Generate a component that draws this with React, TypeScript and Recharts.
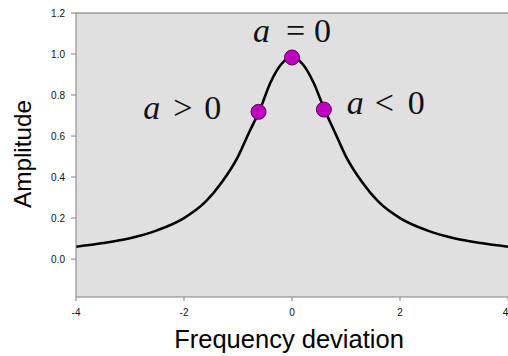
import React from 'react';
import {
  ComposedChart, Line, Scatter, XAxis, YAxis, CartesianGrid, ReferenceLine, ReferenceDot, Label,
} from 'recharts';

// Curve
const curveX = [-4, -3.5, -3, -2.5, -2, -1.6, -1.3, -1, -0.8, -0.6, -0.4, -0.2, 0, 0.2, 0.4, 0.6, 0.8, 1, 1.3, 1.6, 2, 2.5, 3, 3.5, 4];
const curveY = [0.06, 0.078, 0.102, 0.14, 0.2, 0.28, 0.375, 0.5, 0.615, 0.725, 0.86, 0.95, 0.985, 0.95, 0.86, 0.73, 0.615, 0.5, 0.375, 0.28, 0.2, 0.14, 0.102, 0.078, 0.06];

// Marked points
const dotX = [-0.62, 0, 0.59];
const dotY = [0.718, 0.983, 0.729];

const xTicks = [-4, -2, 0, 2, 4];
const yTicks = [0, 0.2, 0.4, 0.6, 0.8, 1.0, 1.2];
const yDomain: [number, number] = [-0.185, 1.2];

const curve = curveX.map((x, i) => ({ x, y: curveY[i] }));
const dots = dotX.map((x, i) => ({ x, y: dotY[i] }));

const annotations: { op: string; x: number; y: number; opDx: number }[] = [
  { op: '=', x: -0.722, y: 1.059, opDx: 33 },
  { op: '>', x: -2.754, y: 0.682, opDx: 30 },
  { op: '<', x: 1.013, y: 0.706, opDx: 28 },
];

const SANS = '"Liberation Sans", Arial, sans-serif';
const SERIF = '"Liberation Serif", "Times New Roman", serif';

const Ann = ({ viewBox, op, opDx }: any) => {
  const x = viewBox.x + viewBox.width / 2;
  const y = viewBox.y + viewBox.height / 2;
  return (
    <g fontFamily={SERIF} fontSize={34} fill="#111">
      <text x={x} y={y} fontStyle="italic">a</text>
      <text x={x + opDx} y={y}>{op}</text>
      <text x={x + 61} y={y}>0</text>
    </g>
  );
};

const Dot = (props: any) => (
  <circle cx={props.cx} cy={props.cy} r={7.5} fill="#c000c0" stroke="#5a005a" strokeWidth={1} />
);

export default function App() {
  return (
    <div style={{ position: 'absolute', left: 0, top: 0, width: 508, height: 356 }}>
      <ComposedChart
        width={508}
        height={356}
        data={curve}
        margin={{ top: 13, right: 0, bottom: 0, left: 0 }}
        style={{ fontFamily: SANS }}
      >
        <CartesianGrid fill="#e0e0e0" horizontal={false} vertical={false} stroke="none" />
        <XAxis
          dataKey="x"
          type="number"
          domain={[-4, 4]}
          ticks={xTicks}
          height={59}
          stroke="#808080"
          tickSize={4}
          tickMargin={8}
          tick={{ fontSize: 10, fill: '#111', fontFamily: SANS }}
          allowDataOverflow
        >
          <Label
            content={({ viewBox }: any) => (
              <text
                x={viewBox.x + viewBox.width / 2 - 3}
                y={viewBox.y + 51}
                textAnchor="middle"
                fontSize={25.5}
                fontFamily={SANS}
                fill="#000"
              >
                Frequency deviation
              </text>
            )}
          />
        </XAxis>
        <YAxis
          type="number"
          domain={yDomain}
          ticks={yTicks}
          width={76}
          stroke="#808080"
          tickSize={5}
          tickMargin={6}
          tickFormatter={(v: number) => v.toFixed(1)}
          tick={{ fontSize: 10, fill: '#111', fontFamily: SANS }}
          allowDataOverflow
        >
          <Label
            content={() => (
              <text
                x={30.7}
                y={154}
                transform="rotate(-90, 30.7, 154)"
                textAnchor="middle"
                fontSize={24.3}
                fontFamily={SANS}
                fill="#000"
              >
                Amplitude
              </text>
            )}
          />
        </YAxis>
        <ReferenceLine y={1.2} stroke="#707070" strokeWidth={1} />
        <Line
          type="monotone"
          dataKey="y"
          stroke="#000"
          strokeWidth={2.6}
          dot={false}
          activeDot={false}
          isAnimationActive={false}
        />
        <Scatter data={dots} dataKey="y" shape={Dot} isAnimationActive={false} />
        {annotations.map((a, i) => (
          <ReferenceDot
            key={i}
            x={a.x}
            y={a.y}
            r={1}
            fill="none"
            stroke="none"
            label={<Ann op={a.op} opDx={a.opDx} />}
          />
        ))}
      </ComposedChart>
    </div>
  );
}
